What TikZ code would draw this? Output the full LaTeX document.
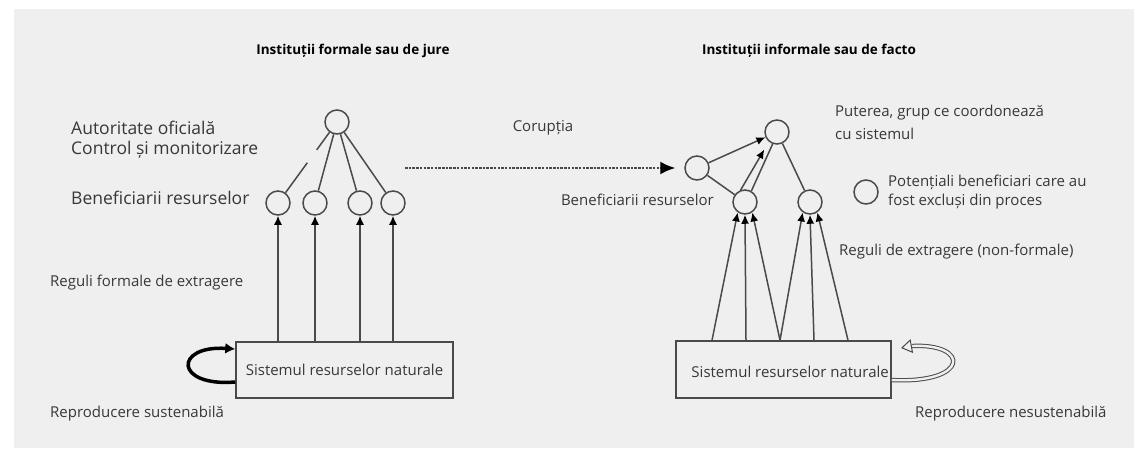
\documentclass[tikz,border=0pt]{standalone}
\usepackage{fontspec}
\setmainfont{Open Sans}
\usetikzlibrary{arrows.meta}
\definecolor{bg}{HTML}{EFEFEF}
\definecolor{ln}{HTML}{4A4A4A}
\definecolor{tx}{HTML}{383838}
\begin{document}
\begin{tikzpicture}[x=1pt,y=-1pt,
  nd/.style={circle,draw=ln,line width=1.5pt,minimum size=24pt,inner sep=0pt},
  lbl/.style={font=\fontsize{15}{18}\selectfont,text=tx,inner sep=0pt,anchor=west},
  big/.style={font=\fontsize{17.5}{21}\selectfont,text=tx,inner sep=0pt,anchor=west},
  ttl/.style={font=\bfseries\fontsize{13.5}{16}\selectfont,text=black,inner sep=0pt},
  con/.style={draw=ln,line width=1.5pt},
  arr/.style={con,-{Latex[length=9pt,width=8pt,color=black]}},
  boxs/.style={draw=ln,line width=1.5pt,inner sep=0pt,font=\fontsize{15}{18}\selectfont,text=tx}
]
\useasboundingbox (0,0) rectangle (1134,448);
\fill[white] (0,0) rectangle (1134,448);
\fill[bg] (14,9) rectangle (1134,448);

% titles
\node[ttl] (t1) at (353,51) {Instituții formale sau de jure};
\node[ttl] (t2) at (809,51) {Instituții informale sau de facto};

% left labels
\node[big] (a1) at (71,128) {Autoritate oficială};
\node[big] (a2) at (71,150) {Control și monitorizare};
\node[big] (a3) at (71,198) {Beneficiarii resurselor};
\node[lbl] (r1) at (50,283) {Reguli formale de extragere};
\node[lbl] (r2) at (50,414) {Reproducere sustenabilă};

% left network
\node[nd] (top) at (337,122) {};
\node[nd] (c1) at (278,203) {};
\node[nd] (c2) at (315,203) {};
\node[nd] (c3) at (360,203) {};
\node[nd] (c4) at (393,203) {};
\node[boxs,minimum width=217pt,minimum height=56pt] (lbox) at (344.5,370) {Sistemul resurselor naturale};

\draw[con,dash pattern=on 37pt off 16pt on 60pt] (c1) -- (top);
\draw[con] (top) -- (c2);
\draw[con] (top) -- (c3);
\draw[con] (top) -- (c4);
\foreach \c in {c1,c2,c3,c4} \draw[arr] (\c |- lbox.north) -- (\c);

\draw[line width=3.5pt,black,-{Latex[length=10pt,width=11pt]}]
  (lbox.west |- 0,382) .. controls (174,387) and (174,345) .. (lbox.west |- 0,349);

% corruption arrow
\node[lbl,anchor=center] (cor) at (543,128) {Corupția};
\coordinate (ds) at (405,168);

% right network
\node[nd] (rt) at (777,132) {};
\node[nd] (lc) at (697,168) {};
\node[nd] (bl) at (745,202) {};
\node[nd] (br) at (810,202) {};
\node[nd] (lg) at (866,192) {};
\node[boxs,minimum width=215pt,minimum height=57pt] (rbox) at (783.5,369.5) {};
\node[lbl,anchor=east] (rbt) at (889,372) {Sistemul resurselor naturale};

\draw[draw=ln,line width=2pt,dash pattern=on 2.5pt off 1.2pt,
  -{Latex[length=15pt,width=13pt,color=black]},shorten >=9pt] (ds) -- (lc.west);

\draw[arr] (lc) -- (rt);
\draw[con] (lc) -- (bl);
\draw[arr,shorten >=9pt] (bl.110) -- (rt.230);
\draw[con] (bl.60) -- (rt.250);
\draw[con] (rt) -- (br);

\draw[arr] (712,0 |- rbox.north) -- (bl.235);
\draw[arr] (746,0 |- rbox.north) -- (bl.south);
\draw[arr] (780,0 |- rbox.north) -- (bl.305);
\draw[arr] (780,0 |- rbox.north) -- (br.235);
\draw[arr] (814,0 |- rbox.north) -- (br.south);
\draw[arr] (848,0 |- rbox.north) -- (br.305);

% right loop
\coordinate (lpa) at (912,346);
\coordinate (lpb) at (901,348);
\draw[draw=ln,double=bg,line width=1pt,double distance=2.4pt]
  (rbox.east |- 0,380) .. controls (970,384) and (970,343) .. (lpa);
\draw[draw=ln,line width=1pt,-{Triangle[open,length=11pt,width=14pt]}] (lpa) -- (lpb);

% right labels
\node[lbl] (p1) at (835,113) {Puterea, grup ce coordonează};
\node[lbl] (p2) at (835,134) {cu sistemul};
\node[lbl] (q1) at (888,182) {Potențiali beneficiari care au};
\node[lbl] (q2) at (888,202) {fost excluși din proces};
\node[lbl,anchor=east] (b2) at (714,200) {Beneficiarii resurselor};
\node[lbl] (rg) at (839,252) {Reguli de extragere (non-formale)};
\node[lbl] (rr) at (915,414) {Reproducere nesustenabilă};
\end{tikzpicture}
\end{document}
